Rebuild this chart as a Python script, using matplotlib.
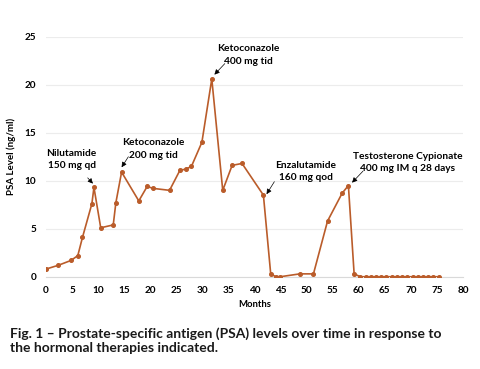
import matplotlib
matplotlib.use("Agg")
import matplotlib.pyplot as plt

months = [0, 2.4, 4.8, 6.1, 7.0, 8.8, 9.2, 10.5, 12.9, 13.4, 14.5, 17.8, 19.4,
          20.6, 23.7, 25.7, 26.8, 27.9, 29.9, 31.8, 33.9, 35.7, 37.6, 41.7,
          43.1, 44.1, 44.9, 48.7, 51.3, 54.0, 56.8, 58.0, 59.1,
          60.3, 61.3, 62.3, 63.3, 64.3, 65.3, 66.3, 67.3, 68.3, 69.3, 70.3,
          71.3, 72.3, 73.3, 74.3, 75.3]
psa = [0.8, 1.2, 1.7, 2.2, 4.1, 7.6, 9.3, 5.1, 5.4, 7.7, 10.9, 7.9, 9.4,
       9.2, 9.0, 11.1, 11.2, 11.5, 14.0, 20.6, 9.0, 11.6, 11.8, 8.5,
       0.3, 0.0, 0.0, 0.3, 0.3, 5.8, 8.7, 9.5, 0.3,
       0, 0, 0, 0, 0, 0, 0, 0, 0, 0, 0, 0, 0, 0, 0, 0]

note_text = ["Nilutamide\n150 mg qd", "Ketoconazole\n200 mg tid",
             "Ketoconazole\n400 mg tid", "Enzalutamide\n160 mg qod",
             "Testosterone Cypionate\n400 mg IM q 28 days"]
note_xy = [(4.9, 12.2), (20.6, 13.3), (38.8, 23.1), (49.8, 11.0), (69.4, 11.9)]
arrow_tail = [(8.0, 10.3), (15.8, 12.5), (34.3, 22.2), (43.8, 9.9), (60.8, 11.0)]
arrow_tip = [(9.0, 9.7), (14.5, 11.4), (32.3, 21.05), (42.3, 8.6), (58.7, 9.8)]

line_color = "#BA5C2A"
font = ["Lato", "DejaVu Sans"]

fig = plt.figure(figsize=(4.8, 3.69), dpi=100)
ax = fig.add_axes([0.0958, 0.25, 0.869, 0.6505])

ax.plot(months, psa, color=line_color, lw=1.2, marker="o", ms=2.6, zorder=3)

for text, (tx, ty), tail, tip in zip(note_text, note_xy, arrow_tail, arrow_tip):
    ax.text(tx, ty, text, fontsize=7.3, fontweight="bold", family=font,
            ha="center", va="center", linespacing=1.45)
    ax.annotate("", xy=tip, xytext=tail,
                arrowprops=dict(arrowstyle="-|>,head_width=0.15,head_length=0.3",
                                color="black", lw=0.5, shrinkA=0, shrinkB=0))

ax.set_xlim(0, 80)
ax.set_ylim(0, 25)
ax.set_xticks(range(0, 81, 5))
ax.set_yticks(range(0, 26, 5))
ax.grid(axis="y", color="#ececec", lw=0.8)
ax.set_axisbelow(True)
for s in ["top", "right", "left"]:
    ax.spines[s].set_visible(False)
ax.spines["bottom"].set_color("#d9d9d9")
ax.tick_params(length=0, labelsize=7.2, pad=7)
for lab in ax.get_xticklabels() + ax.get_yticklabels():
    lab.set_fontweight("bold")
    lab.set_family(font)
ax.set_xlabel("Months", fontsize=6.8, fontweight="bold", family=font, labelpad=3)
ax.set_ylabel("PSA Level (ng/ml)", fontsize=7, fontweight="bold", family=font, labelpad=6)

fig.text(0.021, 0.077, "Fig. 1 \u2013 Prostate-specific antigen (PSA) levels over time in response to\n"
         "the hormonal therapies indicated.", fontsize=10, fontweight="bold",
         family=font, ha="left", va="center", linespacing=1.2, color="#1a1a1a")

fig.savefig("out.png", dpi=100)
